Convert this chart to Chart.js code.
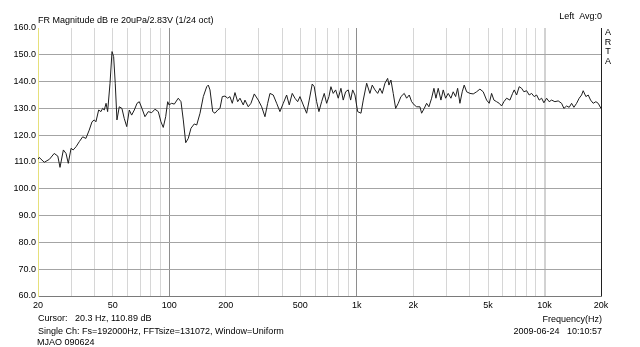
<!DOCTYPE html>
<html>
<head>
<meta charset="utf-8">
<script src="https://cdn.jsdelivr.net/npm/chart.js@4/dist/chart.umd.min.js"></script>
<style>
  html, body { margin: 0; padding: 0; background: #fff; }
  #wrap { width: 640px; height: 347px; position: relative; }
</style>
</head>
<body>
<div id="wrap"><canvas id="fr"></canvas></div>
<script>
// ARTA 頻響曲線（1/24 oct 平滑）— 數值由圖上讀取
const freqHz = [
  20.0, 20.3, 21.6, 23.0, 24.4, 25.5, 26.2, 27.3, 28.2, 29.0,
  30.0, 30.8, 31.9, 33.2, 34.6, 36.0, 37.5, 38.8, 39.9, 40.7,
  42.1, 43.3, 44.2, 45.1, 46.1, 47.0, 48.4, 49.6, 50.6, 51.6,
  52.7, 54.2, 56.0, 57.6, 59.4, 61.3, 63.1, 65.2, 67.4, 69.3,
  71.6, 74.3, 77.4, 80.7, 84.0, 87.5, 90.4, 93.0, 95.8, 98.2,
  99.8, 103.1, 106.5, 111.8, 115.6, 118.9, 122.5, 126.4, 130.7, 136.1,
  140.2, 146.0, 152.0, 158.5, 161.6, 165.0, 170.6, 175.4, 181.4, 186.5,
  191.9, 198.3, 205.0, 210.8, 216.9, 224.2, 231.7, 238.4, 248.2, 253.4,
  263.9, 272.8, 284.1, 298.4, 311.1, 323.9, 334.8, 344.4, 358.6, 373.9,
  389.3, 405.4, 422.6, 436.3, 452.7, 467.9, 483.7, 497.5, 518.1, 540.1,
  557.6, 578.5, 592.9, 610.6, 628.1, 649.2, 670.3, 690.3, 710.1, 727.7,
  748.5, 770.9, 795.8, 822.6, 846.2, 871.4, 900.0, 926.9, 949.9, 977.1,
  1010, 1052, 1082, 1128, 1174, 1208, 1249, 1291, 1328, 1366,
  1412, 1459, 1483, 1519, 1563, 1610, 1662, 1718, 1789, 1842,
  1902, 1959, 2022, 2083, 2169, 2214, 2286, 2354, 2422, 2503,
  2575, 2639, 2714, 2806, 2886, 2972, 3068, 3172, 3262, 3360,
  3444, 3542, 3644, 3734, 3846, 4004, 4170, 4347, 4527, 4714,
  4914, 5074, 5225, 5375, 5556, 5736, 5907, 6076, 6281, 6540,
  6761, 6895, 7101, 7331, 7550, 7766, 8028, 8288, 8535, 8812,
  9075, 9369, 9649, 9925, 10259, 10591, 10908, 11360, 11829, 12333,
  12686, 13113, 13538, 13943, 14341, 14825, 15305, 15763, 16075, 16616,
  17091, 17602, 18173, 18784, 19322, 20000
];

const levelDb = [
  111.0, 111.7, 109.9, 111.0, 113.2, 112.2, 108.0, 114.5, 113.2, 109.5,
  115.1, 114.5, 115.7, 117.6, 119.4, 118.8, 121.9, 125.0, 125.7, 125.0,
  129.4, 128.8, 130.0, 129.4, 131.9, 128.8, 139.4, 151.2, 149.3, 139.4,
  125.7, 130.6, 130.0, 126.3, 123.2, 129.4, 127.5, 129.4, 131.9, 132.5,
  130.0, 126.9, 128.8, 128.4, 129.7, 128.8, 125.0, 122.9, 126.9, 132.5,
  131.3, 131.9, 131.6, 133.8, 132.5, 125.7, 117.2, 118.8, 122.6, 124.2,
  123.8, 128.2, 134.4, 138.1, 138.7, 136.9, 128.8, 128.2, 129.4, 130.0,
  134.4, 134.6, 133.8, 134.4, 131.9, 135.9, 132.5, 133.8, 131.3, 133.1,
  130.6, 131.9, 135.4, 133.1, 130.6, 126.9, 131.9, 135.6, 135.0, 131.9,
  128.8, 131.9, 135.0, 131.3, 135.6, 133.8, 132.5, 134.4, 131.3, 128.2,
  133.1, 139.1, 138.1, 132.5, 128.8, 132.5, 135.6, 131.9, 134.4, 138.1,
  135.6, 136.9, 133.8, 137.5, 133.1, 136.2, 136.9, 133.1, 136.9, 135.0,
  128.8, 128.2, 133.1, 139.4, 135.6, 138.7, 136.9, 135.6, 137.5, 135.6,
  139.4, 141.2, 138.7, 140.6, 135.6, 130.0, 131.9, 134.4, 135.6, 133.8,
  135.0, 132.5, 131.3, 130.6, 130.6, 128.2, 130.0, 131.9, 130.6, 133.8,
  137.5, 133.8, 137.5, 133.1, 136.9, 133.8, 135.6, 133.8, 136.2, 134.4,
  137.5, 131.9, 136.2, 138.7, 136.2, 135.6, 135.4, 136.2, 137.2, 136.2,
  133.1, 131.9, 135.6, 133.1, 132.5, 131.9, 130.9, 132.5, 133.8, 133.1,
  135.6, 136.9, 135.0, 138.1, 137.5, 136.2, 136.6, 135.0, 135.6, 134.4,
  135.0, 133.1, 133.8, 132.1, 133.8, 132.5, 133.1, 132.5, 132.8, 131.9,
  130.0, 130.9, 130.4, 131.9, 130.4, 131.9, 133.8, 135.0, 136.6, 134.4,
  135.0, 133.1, 131.9, 132.5, 131.9, 130.0
];

// 格線位置與標籤
const xGridHz    = [20, 30, 40, 50, 60, 70, 80, 90,
                    100, 200, 300, 400, 500, 600, 700, 800, 900,
                    1000, 2000, 3000, 4000, 5000, 6000, 7000, 8000, 9000,
                    10000, 20000];
const xLabelHz   = [20, 50, 100, 200, 500, 1000, 2000, 5000, 10000, 20000];
const xLabelText = ['20', '50', '100', '200', '500', '1k', '2k', '5k', '10k', '20k'];
const yMinDb = 60;
const yMaxDb = 160;
const yStepDb = 10;

const FONT = 'Liberation Sans, Arial, sans-serif';

const textPlugin = {
  id: 'artaText',
  afterDraw(chart) {
    const c = chart.ctx;
    c.save();
    c.fillStyle = '#000';
    c.font = '9px ' + FONT;
    c.textBaseline = 'alphabetic';
    c.textAlign = 'left';
    c.fillText('FR Magnitude dB re 20uPa/2.83V (1/24 oct)', 38, 23);
    c.fillText('Cursor:   20.3 Hz, 110.89 dB', 38, 321);
    c.fillText('Single Ch: Fs=192000Hz, FFTsize=131072, Window=Uniform', 38, 334);
    c.fillText('MJAO 090624', 37, 345);
    c.textAlign = 'right';
    c.fillText('Left  Avg:0', 602, 19);
    c.fillText('Frequency(Hz)', 602, 322);
    c.fillText('2009-06-24   10:10:57', 602, 334);
    c.textAlign = 'center';
    ['A', 'R', 'T', 'A'].forEach((ch, i) => c.fillText(ch, 608, 35 + i * 9.6));
    c.restore();
  }
};

new Chart(document.getElementById('fr'), {
  type: 'line',
  data: {
    datasets: [{
      data: freqHz.map((f, i) => ({ x: f, y: levelDb[i] })),
      borderColor: '#1e1e1e',
      borderWidth: 1,
      pointRadius: 0,
      tension: 0,
      fill: false,
    }]
  },
  options: {
    responsive: true,
    maintainAspectRatio: false,
    animation: false,
    layout: { padding: { top: 28, right: 39, left: 0, bottom: 0 } },
    scales: {
      x: {
        type: 'logarithmic',
        min: 20,
        max: 20000,
        afterBuildTicks: s => { s.ticks = xGridHz.map(v => ({ value: v })); },
        afterFit: s => { s.height = 51; },
        ticks: {
          autoSkip: false,
          maxRotation: 0,
          padding: 4,
          color: '#000',
          font: { family: FONT, size: 9 },
          callback: v => {
            const i = xLabelHz.indexOf(v);
            return i >= 0 ? xLabelText[i] : '';
          },
        },
        grid: {
          drawTicks: false,
          color: ctx => {
            const v = ctx.tick && ctx.tick.value;
            if (v === 20) return 'rgba(0,0,0,0)';
            if (v === 20000) return '#202020';
            if (v === 100 || v === 1000) return '#8e8e8e';
            if (v === 10000) return '#d2d2d2';
            return '#d6d6d6';
          },
          lineWidth: ctx => (ctx.tick && ctx.tick.value === 10000 ? 2 : 1),
        },
        border: { color: '#7a7a7a', width: 1 },
      },
      y: {
        min: yMinDb,
        max: yMaxDb,
        afterFit: s => { s.width = 38; },
        ticks: {
          stepSize: yStepDb,
          padding: 2,
          color: '#000',
          font: { family: FONT, size: 9 },
          callback: v => v.toFixed(1),
        },
        grid: {
          drawTicks: false,
          color: ctx => (ctx.tick && ctx.tick.value === yMaxDb ? 'rgba(0,0,0,0)' : '#a4a4a4'),
        },
        border: { color: '#e6e07a', width: 1 },
      },
    },
    plugins: {
      legend: { display: false },
      tooltip: { enabled: false },
    },
  },
  plugins: [textPlugin],
});
</script>
</body>
</html>
